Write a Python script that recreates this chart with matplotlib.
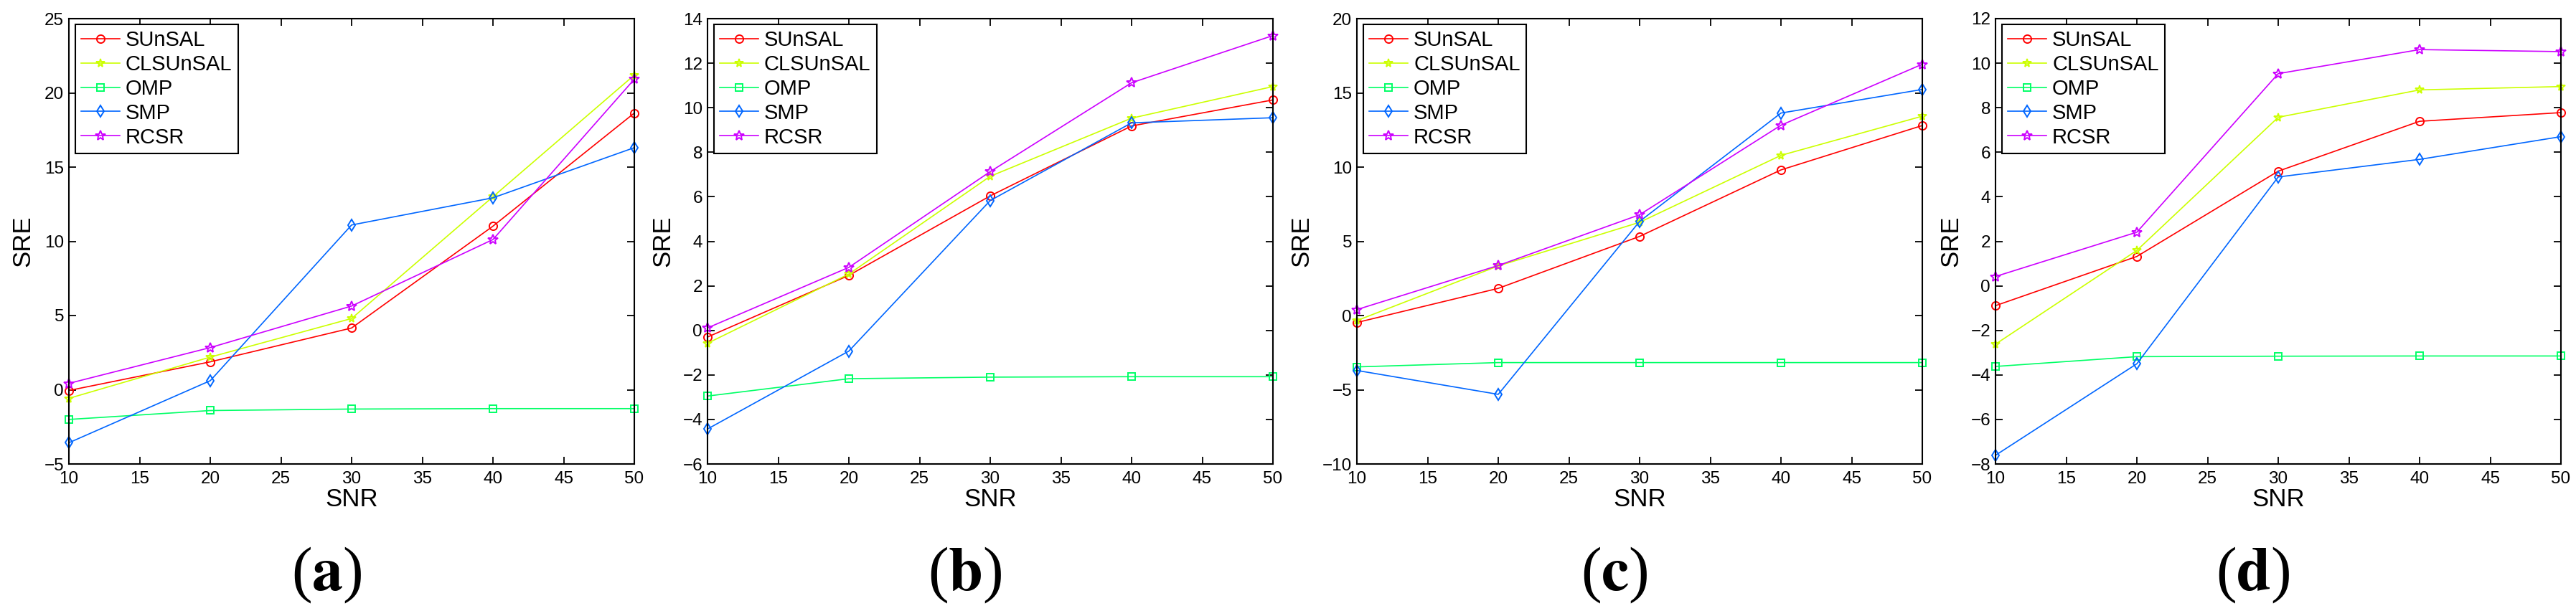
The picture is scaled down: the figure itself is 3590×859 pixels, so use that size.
import matplotlib
matplotlib.use('Agg')
import matplotlib.pyplot as plt

# data
snr = [10, 20, 30, 40, 50]
methods = ['SUnSAL', 'CLSUnSAL', 'OMP', 'SMP', 'RCSR']
panel_labels = ['a', 'b', 'c', 'd']
y_limits = [(-5, 25), (-6, 14), (-10, 20), (-8, 12)]
y_steps = [5, 2, 5, 2]

sre_a = {
    'SUnSAL':   [-0.05, 1.88, 4.16, 11.02, 18.64],
    'CLSUnSAL': [-0.58, 2.20, 4.80, 13.00, 21.20],
    'OMP':      [-2.00, -1.40, -1.30, -1.27, -1.27],
    'SMP':      [-3.57, 0.61, 11.10, 12.93, 16.31],
    'RCSR':     [0.43, 2.84, 5.64, 10.12, 20.92],
}
sre_b = {
    'SUnSAL':   [-0.30, 2.47, 6.04, 9.18, 10.35],
    'CLSUnSAL': [-0.58, 2.53, 6.92, 9.53, 10.95],
    'OMP':      [-2.95, -2.17, -2.10, -2.08, -2.08],
    'SMP':      [-4.43, -0.93, 5.83, 9.32, 9.55],
    'RCSR':     [0.11, 2.83, 7.13, 11.12, 13.24],
}
sre_c = {
    'SUnSAL':   [-0.47, 1.83, 5.33, 9.81, 12.80],
    'CLSUnSAL': [-0.34, 3.34, 6.28, 10.79, 13.43],
    'OMP':      [-3.46, -3.17, -3.17, -3.17, -3.17],
    'SMP':      [-3.70, -5.31, 6.34, 13.64, 15.23],
    'RCSR':     [0.40, 3.37, 6.79, 12.82, 16.93],
}
sre_d = {
    'SUnSAL':   [-0.89, 1.32, 5.15, 7.39, 7.78],
    'CLSUnSAL': [-2.62, 1.59, 7.57, 8.80, 8.95],
    'OMP':      [-3.62, -3.18, -3.16, -3.15, -3.15],
    'SMP':      [-7.61, -3.50, 4.89, 5.68, 6.70],
    'RCSR':     [0.42, 2.41, 9.53, 10.61, 10.52],
}
panels = [sre_a, sre_b, sre_c, sre_d]

# matlab hsv(5) style colours and markers
colors = {'SUnSAL': (1, 0, 0), 'CLSUnSAL': (0.8, 1, 0), 'OMP': (0, 1, 0.4),
          'SMP': (0, 0.4, 1), 'RCSR': (0.8, 0, 1)}
markers = {'SUnSAL': 'o', 'CLSUnSAL': '*', 'OMP': 's', 'SMP': 'd', 'RCSR': '*'}
msizes = {'SUnSAL': 8, 'CLSUnSAL': 8.5, 'OMP': 6.5, 'SMP': 8, 'RCSR': 10.5}

plt.rcParams['font.family'] = ['Liberation Sans', 'DejaVu Sans']
plt.rcParams['mathtext.fontset'] = 'stix'

W, H = 3590, 859
fig = plt.figure(figsize=(W / 100, H / 100), dpi=100)

lefts = [96, 986, 1891, 2781]
ax_w, ax_top, ax_bot = 788, 26, 647
ylabel_x = [-0.081, -0.079, -0.098, -0.079]

for i, data in enumerate(panels):
    ax = fig.add_axes([lefts[i] / W, (H - ax_bot) / H, ax_w / W, (ax_bot - ax_top) / H])

    for m in methods:
        ax.plot(snr, data[m], color=colors[m], marker=markers[m], markersize=msizes[m],
                markerfacecolor='none', markeredgewidth=1.4, linewidth=1.2,
                label=m, clip_on=False)

    lo, hi = y_limits[i]
    ax.set_xlim(10, 50)
    ax.set_ylim(lo, hi)
    ax.set_xticks(range(10, 51, 5))
    ax.set_yticks(range(lo, hi + 1, y_steps[i]))
    ax.tick_params(direction='in', length=7, width=1.3, labelsize=17.5,
                   top=True, right=True, pad=5)
    ax.tick_params(axis='x', pad=7)
    for sp in ax.spines.values():
        sp.set_linewidth(1.5)

    ax.set_xlabel('SNR', fontsize=25)
    ax.xaxis.set_label_coords(0.5, -50 / 621)
    ax.xaxis.label.set_va('center')
    ax.set_ylabel('SRE', fontsize=25)
    ax.yaxis.set_label_coords(ylabel_x[i], 0.5)
    ax.yaxis.label.set_va('center')

    leg = ax.legend(loc='upper left', bbox_to_anchor=(9 / 788, 1 - 8 / 621),
                    borderaxespad=0, fontsize=21, fancybox=False, framealpha=1,
                    edgecolor='black', labelspacing=0.2, handlelength=1.85,
                    handletextpad=0.27, borderpad=0.28)
    leg.get_frame().set_linewidth(1.5)

    ax.text(0.5 - 35 / 788, -155 / 621, '(' + r'$\mathbf{' + panel_labels[i] + '}$' + ')',
            transform=ax.transAxes, ha='center', va='center', fontsize=62,
            family='Liberation Serif')

fig.savefig('out.png', dpi=100)
